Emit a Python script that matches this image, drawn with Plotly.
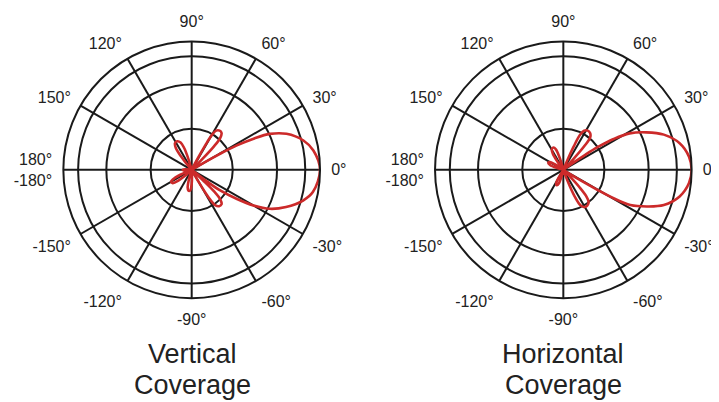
import plotly.graph_objects as go

# Angular tick labels
tick_angles = [0, 30, 60, 90, 120, 150, 180, 210, 240, 270, 300, 330]
tick_labels = ["0°", "30°", "60°", "90°", "120°", "150°", "180°<br>-180°",
               "-150°", "-120°", "-90°", "-60°", "-30°"]

# Ring positions (relative level)
ring_levels = [0.32, 0.665, 0.885]

# Vertical coverage pattern (angle in degrees, relative level)
vertical_theta = [0, 9, 14.7, 20.8, 24.7, 26.7, 28.4, 29.5, 30.5, 32,
                  44, 45.5, 46.5, 48, 51, 54.5, 58, 60, 61, 62, 63.5,
                  104, 107, 109, 112, 117, 122, 126, 128.5, 130, 132,
                  172, 176, 181, 186, 190,
                  200, 203, 206, 210, 215, 219, 222, 225,
                  251, 254, 257, 261, 266, 270, 273, 275,
                  298, 300, 301.5, 303.5, 307, 311, 314, 316, 317, 318.5,
                  321, 322.5, 324, 327.2, 330, 333.5, 338.5, 344.6, 349.6, 360]
vertical_r = [1.0, 0.96, 0.90, 0.79, 0.67, 0.54, 0.40, 0.25, 0.12, 0.0,
              0.0, 0.12, 0.25, 0.33, 0.37, 0.375, 0.36, 0.31, 0.22, 0.10, 0.0,
              0.0, 0.10, 0.18, 0.23, 0.25, 0.245, 0.21, 0.13, 0.05, 0.0,
              0.0, 0.05, 0.07, 0.05, 0.0,
              0.0, 0.08, 0.15, 0.185, 0.18, 0.13, 0.06, 0.0,
              0.0, 0.08, 0.14, 0.165, 0.16, 0.11, 0.04, 0.0,
              0.0, 0.12, 0.25, 0.33, 0.355, 0.355, 0.32, 0.24, 0.13, 0.0,
              0.0, 0.12, 0.27, 0.42, 0.555, 0.68, 0.79, 0.90, 0.96, 1.0]

# Horizontal coverage pattern
horizontal_theta = [0, 6, 12.9, 19.3, 24.3, 28.8, 31.5, 33.5, 34.5, 35.5, 37,
                    45, 47, 48.5, 50.5, 54, 58, 62, 64.5, 66, 67, 69,
                    104, 107, 110, 114, 119, 123, 126, 129,
                    142, 146, 150, 155, 160, 164, 168,
                    236, 239, 242, 247, 252, 255, 258,
                    289, 291, 293, 296, 300, 304, 308, 311, 313, 314.5, 316,
                    326, 327.5, 328.5, 329.5, 330.5, 332.3, 336.3, 340.7, 347.1, 354, 360]
horizontal_r = [1.0, 0.985, 0.93, 0.83, 0.71, 0.59, 0.46, 0.32, 0.20, 0.09, 0.0,
                0.0, 0.12, 0.25, 0.33, 0.355, 0.36, 0.345, 0.30, 0.20, 0.10, 0.0,
                0.0, 0.10, 0.17, 0.19, 0.185, 0.15, 0.07, 0.0,
                0.0, 0.07, 0.12, 0.13, 0.11, 0.05, 0.0,
                0.0, 0.07, 0.12, 0.13, 0.11, 0.05, 0.0,
                0.0, 0.10, 0.22, 0.31, 0.335, 0.335, 0.32, 0.27, 0.18, 0.08, 0.0,
                0.0, 0.07, 0.17, 0.30, 0.45, 0.59, 0.71, 0.83, 0.93, 0.985, 1.0]

# Panel titles (one entry per line)
title_lines = [["Vertical", "Coverage"], ["Horizontal", "Coverage"]]

RED = "#cc2a2a"
INK = "#1a1a1a"
FONT = "Liberation Sans, Arial, sans-serif"

W, H = 711, 394  # page body has an 8px margin inside the 719x402 window

fig = go.Figure()
fig.add_trace(go.Scatterpolar(theta=vertical_theta, r=vertical_r, mode="lines",
                              line=dict(color=RED, width=2.6, shape="spline", smoothing=1),
                              cliponaxis=False, subplot="polar", showlegend=False))
fig.add_trace(go.Scatterpolar(theta=horizontal_theta, r=horizontal_r, mode="lines",
                              line=dict(color=RED, width=2.6, shape="spline", smoothing=1),
                              cliponaxis=False, subplot="polar2", showlegend=False))

def polar_cfg(xdom):
    return dict(
        domain=dict(x=xdom, y=[0.2635, 0.915]),
        bgcolor="white",
        radialaxis=dict(range=[0, 1], tickvals=ring_levels, showticklabels=False,
                        ticks="", showline=False, gridcolor=INK, gridwidth=1.6),
        angularaxis=dict(tickvals=tick_angles, ticktext=tick_labels,
                         rotation=0, direction="counterclockwise",
                         showline=True, linecolor=INK, linewidth=2,
                         gridcolor=INK, gridwidth=1.6,
                         ticks="outside", ticklen=7, tickcolor="rgba(0,0,0,0)",
                         tickfont=dict(family=FONT, size=16, color="#222222")),
    )

annotations = []
for cx, lines in zip([184, 555], title_lines):
    for cy, txt in zip([346, 377], lines):
        annotations.append(dict(text=txt, x=cx / W, y=1 - cy / H, xref="paper", yref="paper",
                                showarrow=False, font=dict(family=FONT, size=27, color="#222222"),
                                xanchor="center", yanchor="middle"))

fig.update_layout(
    width=W, height=H,
    margin=dict(l=0, r=0, t=0, b=0),
    paper_bgcolor="white",
    polar=polar_cfg([0.0776, 0.4391]),
    polar2=polar_cfg([0.6006, 0.9615]),
    annotations=annotations,
)

fig.write_html("out.html")
